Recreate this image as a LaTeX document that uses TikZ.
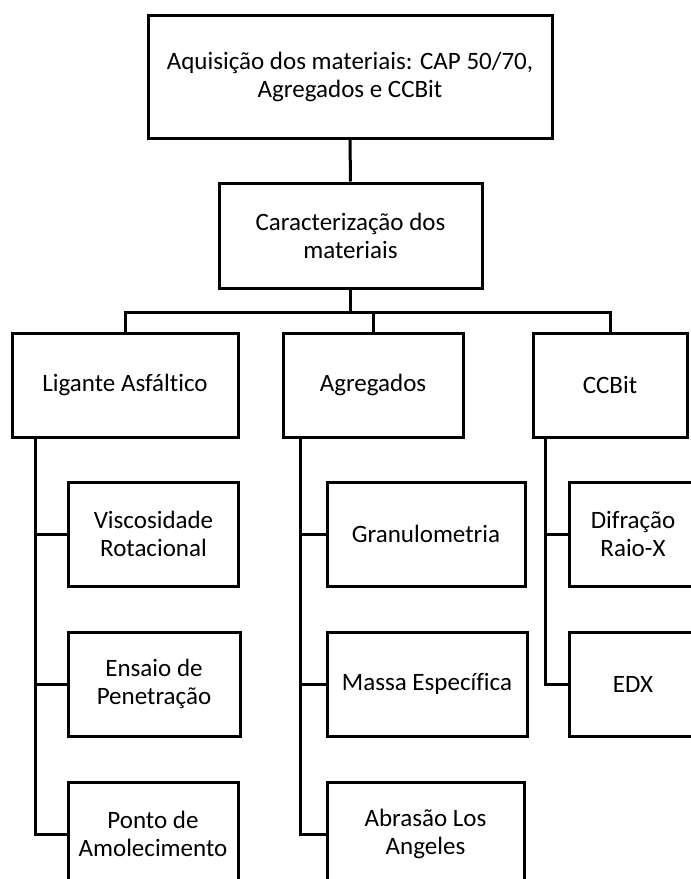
\documentclass[tikz,border=0pt]{standalone}
\usepackage{fontspec}
\setmainfont[Ligatures=CommonOff]{Carlito}
\begin{document}
\begin{tikzpicture}[x=1pt,y=-1pt,
  box/.style={draw=black,line width=3pt,fill=white,inner sep=0pt,align=center,
    font=\fontsize{25pt}{28pt}\selectfont},
  conn/.style={draw=black,line width=3pt}]
\clip (0,0) rectangle (691,879);
\fill[white] (0,0) rectangle (691,879);
% nodes
\node[box,minimum width=404pt,minimum height=123pt] (top) at (350,76.5) {Aquisição dos materiais: CAP 50/70,\\ Agregados e CCBit};
\node[box,minimum width=263pt,minimum height=105pt] (carac) at (350.5,235.5) {Caracterização dos\\ materiais};
\node[box,minimum width=226pt,minimum height=104pt] (lig) at (125,385) {Ligante Asfáltico};
\node[box,minimum width=180pt,minimum height=104pt] (agr) at (373,385) {Agregados};
\node[box,minimum width=154pt,minimum height=104pt] (ccb) at (610,385) {CCBit};
\node[box,minimum width=170pt,minimum height=104pt] (visc) at (153.5,534) {Viscosidade\\ Rotacional};
\node[box,minimum width=172pt,minimum height=104pt] (ens) at (154,684) {Ensaio de\\ Penetração};
\node[box,minimum width=170pt,minimum height=104pt] (ponto) at (153,834) {Ponto de\\ Amolecimento};
\node[box,minimum width=198pt,minimum height=104pt] (gran) at (426,534) {Granulometria};
\node[box,minimum width=200pt,minimum height=104pt] (massa) at (427,684) {Massa Específica};
\node[box,minimum width=197pt,minimum height=104pt] (abr) at (425.5,834) {Abrasão Los\\ Angeles};
\node[box,minimum width=128pt,minimum height=104pt] (difr) at (633,534) {Difração\\ Raio-X};
\node[box,minimum width=128pt,minimum height=104pt] (edx) at (633,684) {EDX};
% connectors
\coordinate (bus) at (350.5,312);
\draw[conn] (top.south) -- (carac.north);
\draw[conn] (carac.south) -- (bus);
\draw[conn] (lig.north) -- (lig.north |- bus) -- (ccb.north |- bus) -- (ccb.north);
\draw[conn] (agr.north) -- (agr.north |- bus);
\coordinate (ls) at ([xshift=25pt]lig.south west);
\coordinate (as) at ([xshift=19pt]agr.south west);
\coordinate (cs) at ([xshift=14pt]ccb.south west);
\draw[conn] (ls) |- (visc.west);
\draw[conn] (ls) |- (ens.west);
\draw[conn] (ls) |- (ponto.west);
\draw[conn] (as) |- (gran.west);
\draw[conn] (as) |- (massa.west);
\draw[conn] (as) |- (abr.west);
\draw[conn] (cs) |- (difr.west);
\draw[conn] (cs) |- (edx.west);
\end{tikzpicture}
\end{document}
